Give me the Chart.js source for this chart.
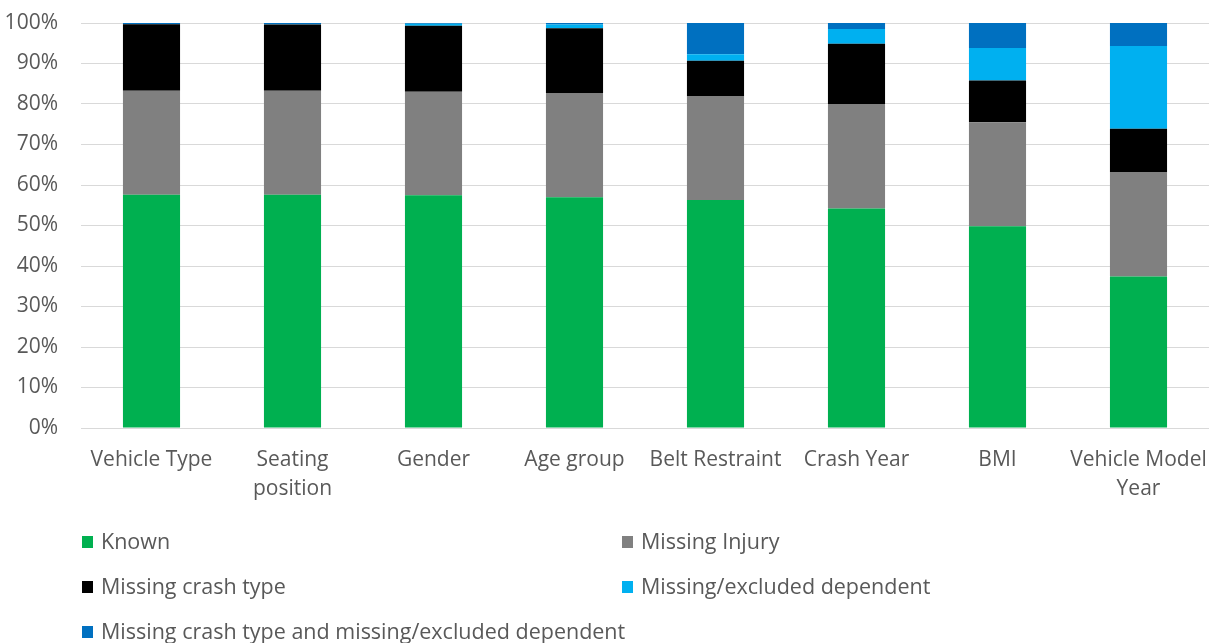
<!DOCTYPE html>
<html>
<head>
<meta charset="utf-8">
<script src="https://cdn.jsdelivr.net/npm/chart.js@4"></script>
<style>
  html, body { margin: 0; padding: 0; background: #fff; }
  #wrap { width: 1209px; height: 643px; position: relative; }
</style>
</head>
<body>
<div id="wrap"><canvas id="c" width="1209" height="643"></canvas></div>
<script>
const categories = [
  "Vehicle Type",
  ["Seating", "position"],
  "Gender",
  "Age group",
  "Belt Restraint",
  "Crash Year",
  "BMI",
  ["Vehicle Model", "Year"]
];
const known           = [57.6, 57.6, 57.5, 57.0, 56.3, 54.2, 49.8, 37.4];
const missingInjury   = [25.7, 25.7, 25.5, 25.6, 25.7, 25.7, 25.7, 25.8];
const missingCrash    = [16.4, 16.3, 16.3, 16.1, 8.7, 15.0, 10.3, 10.7];
const missingExcluded = [0.0, 0.1, 0.5, 0.9, 1.6, 3.6, 8.0, 20.4];
const missingBoth     = [0.3, 0.3, 0.2, 0.4, 7.7, 1.5, 6.2, 5.7];
const seriesNames = [
  "Known",
  "Missing Injury",
  "Missing crash type",
  "Missing/excluded dependent",
  "Missing crash type and missing/excluded dependent"
];
const yTicks = [0, 10, 20, 30, 40, 50, 60, 70, 80, 90, 100];

const colors = ["#00B050", "#808080", "#000000", "#00B0F0", "#0070C0"];
const seriesData = [known, missingInjury, missingCrash, missingExcluded, missingBoth];

const FONT = "'Open Sans', 'Noto Sans', sans-serif";
const TEXT = "#595959";

const legendPlugin = {
  id: 'gridLegend',
  afterDraw(chart) {
    const ctx = chart.ctx;
    ctx.save();
    ctx.font = "21.5px " + FONT;
    ctx.textBaseline = "middle";
    ctx.textAlign = "left";
    chart.data.datasets.forEach((ds, i) => {
      const col = i % 2, row = Math.floor(i / 2);
      const x = 82 + col * 540;
      const y = 542 + row * 45;
      ctx.fillStyle = ds.backgroundColor;
      ctx.fillRect(x, y - 6, 11, 12);
      ctx.fillStyle = TEXT;
      ctx.fillText(ds.label, x + 19, y + 1);
    });
    ctx.restore();
  }
};

new Chart(document.getElementById('c'), {
  type: 'bar',
  data: {
    labels: categories,
    datasets: seriesNames.map((name, i) => ({
      label: name,
      data: seriesData[i],
      backgroundColor: colors[i],
      borderWidth: 0,
      barPercentage: 0.405,
      categoryPercentage: 1.0
    }))
  },
  options: {
    responsive: false,
    animation: false,
    devicePixelRatio: 1,
    layout: { padding: { top: 23, right: 0, bottom: 138, left: 0 } },
    plugins: {
      legend: { display: false },
      tooltip: { enabled: false }
    },
    scales: {
      x: {
        stacked: true,
        grid: { display: false, drawTicks: false },
        border: { display: true, color: "#d9d9d9", width: 1 },
        ticks: {
          color: TEXT,
          font: { family: FONT, size: 21, lineHeight: 1.4 },
          padding: 17,
          maxRotation: 0,
          autoSkip: false
        },
        afterFit(scale) { scale.height = 77; scale.paddingLeft = 0; scale.paddingRight = 0; }
      },
      y: {
        stacked: true,
        min: 0,
        max: 100,
        afterBuildTicks(scale) { scale.ticks = yTicks.map(v => ({ value: v })); },
        grid: { color: "#d9d9d9", lineWidth: 1, drawTicks: false },
        border: { display: false },
        ticks: {
          color: TEXT,
          font: { family: FONT, size: 21 },
          padding: 23,
          callback: v => v + "%"
        },
        afterFit(scale) { scale.width = 81; scale.paddingTop = 0; scale.paddingBottom = 0; }
      }
    }
  },
  plugins: [legendPlugin]
});
</script>
</body>
</html>
